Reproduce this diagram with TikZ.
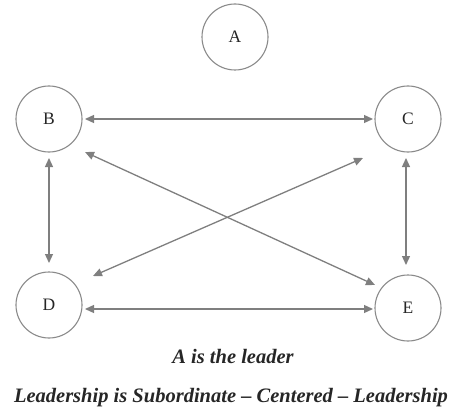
\documentclass[tikz,border=0pt]{standalone}
\usepackage{fontspec}
\setmainfont{Liberation Serif}
\usetikzlibrary{arrows.meta}
\definecolor{arrowgray}{HTML}{7F7F7F}
\definecolor{circgray}{HTML}{8A8A8A}
\tikzset{
  person/.style={circle, draw=circgray, line width=1.1pt, minimum size=66pt, inner sep=0pt, font=\fontsize{17.5}{20}\selectfont, text=black!85},
  link/.style={draw=arrowgray, line width=1.3pt, {Triangle[length=9pt,width=8pt]}-{Triangle[length=9pt,width=8pt]}},
  caption/.style={font=\fontsize{20.5}{24}\selectfont\bfseries\itshape, text=black!85}
}
\begin{document}
\begin{tikzpicture}[x=1pt,y=-1pt]
\useasboundingbox (0,0) rectangle (461,420);
\node[person] (A) at (235,37) {A};
\node[person] (B) at (49,119) {B};
\node[person] (C) at (408,119) {C};
\node[person] (D) at (49,305) {D};
\node[person] (E) at (408,308) {E};
% free ends
\coordinate (be1) at (85,152);
\coordinate (be2) at (375,285);
\coordinate (dc1) at (93,276);
\coordinate (dc2) at (363,158);
\draw[link] (85,119) -- (373,119);
\draw[link] (49,158) -- (49,263);
\draw[link] (406,158) -- (406,265);
\draw[link] (85,309) -- (373,309);
\draw[link] (be1) -- (be2);
\draw[link] (dc1) -- (dc2);
\node[caption] (t1) at (233,356) {A is the leader};
\node[caption] (t2) at (231,398) {Leadership is Subordinate – Centered – Leadership};
\end{tikzpicture}
\end{document}
